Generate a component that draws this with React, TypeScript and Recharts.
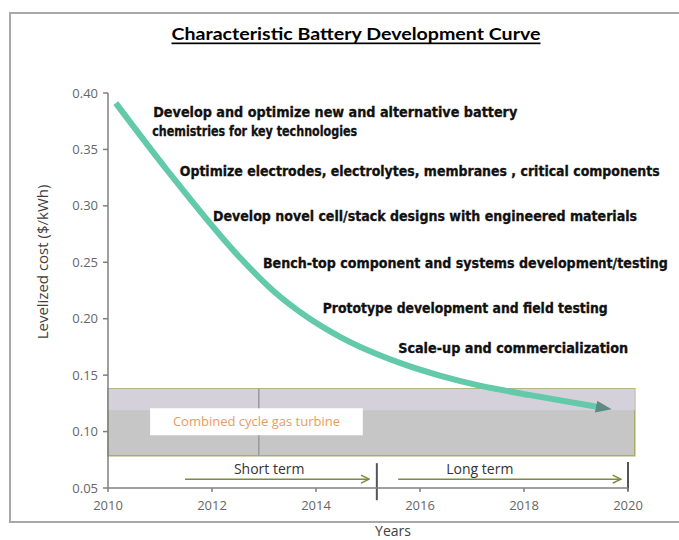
import React from "react";
import {
  ComposedChart,
  Line,
  Scatter,
  XAxis,
  YAxis,
  ReferenceArea,
  ReferenceLine,
} from "recharts";

// cost curve (year, $/kWh)
const curve = [
  { year: 2010.15, cost: 0.391 },
  { year: 2011.13, cost: 0.332 },
  { year: 2012.54, cost: 0.254 },
  { year: 2013.17, cost: 0.225 },
  { year: 2013.83, cost: 0.2015 },
  { year: 2014.46, cost: 0.184 },
  { year: 2015.1, cost: 0.17 },
  { year: 2015.75, cost: 0.1586 },
  { year: 2016.38, cost: 0.1496 },
  { year: 2017.15, cost: 0.1407 },
  { year: 2018.12, cost: 0.1323 },
  { year: 2019.46, cost: 0.1215 },
];

const xTicks = [2010, 2012, 2014, 2016, 2018, 2020];
const yTicks = [0.05, 0.1, 0.15, 0.2, 0.25, 0.3, 0.35, 0.4];

const shortArrow = [
  { year: 2011.48, cost: 0.0578 },
  { year: 2015.02, cost: 0.0578 },
];
const longArrow = [
  { year: 2015.58, cost: 0.0578 },
  { year: 2019.86, cost: 0.0578 },
];

// stage notes, anchored at their left edge
const notes = [
  { year: 2010.87, cost: 0.3832, text: "Develop and optimize new and alternative battery", len: 364 },
  { year: 2010.85, cost: 0.3663, text: "chemistries for key technologies", len: 205 },
  { year: 2011.38, cost: 0.3308, text: "Optimize electrodes, electrolytes, membranes , critical components", len: 480 },
  { year: 2012.02, cost: 0.2909, text: "Develop novel cell/stack designs with engineered materials", len: 424 },
  { year: 2012.98, cost: 0.2492, text: "Bench-top component and systems development/testing", len: 405 },
  { year: 2014.13, cost: 0.2093, text: "Prototype development and field testing", len: 285 },
  { year: 2015.58, cost: 0.1738, text: "Scale-up and commercialization", len: 230 },
];

const termLabels = [
  { year: 2013.1, cost: 0.0674, text: "Short term" },
  { year: 2017.15, cost: 0.0674, text: "Long term" },
];

const gasBand = { x1: 2010, x2: 2020.13, y1: 0.0786, y2: 0.138 };
const gasBandTop = { y1: 0.119, y2: 0.138 };
const gasLabelBox = { x1: 2010.81, x2: 2014.9, y1: 0.0968, y2: 0.1207 };
const bandSeam = 2012.9;
const termDivider = 2015.17;
const termEnd = 2020;

const NOTE_FONT = "'Liberation Sans Narrow', 'DejaVu Sans Condensed', 'Arial Narrow', sans-serif";
const AXIS_FONT = "'Open Sans', 'Liberation Sans', sans-serif";

function NoteShape(props: any) {
  const { cx, cy, payload } = props;
  return (
    <text
      x={cx}
      y={cy}
      dominantBaseline="central"
      fontFamily={NOTE_FONT}
      fontWeight="bold"
      fontSize={14}
      fill="#111"
      stroke="#111"
      strokeWidth={0.3}
      textLength={payload.len}
      lengthAdjust="spacingAndGlyphs"
    >
      {payload.text}
    </text>
  );
}

function TermShape(props: any) {
  const { cx, cy, payload } = props;
  return (
    <text
      x={cx}
      y={cy}
      textAnchor="middle"
      dominantBaseline="central"
      fontFamily={AXIS_FONT}
      fontSize={14}
      fill="#333"
    >
      {payload.text}
    </text>
  );
}

export default function App() {
  return (
    <div
      style={{
        position: "fixed",
        left: 0,
        top: 0,
        width: 679,
        height: 540,
        background: "#fff",
        overflow: "hidden",
      }}
    >
      <div
        style={{
          position: "absolute",
          left: 9,
          top: 12,
          width: 720,
          height: 511,
          boxSizing: "border-box",
          border: "2px solid #a8a8a8",
        }}
      />
      <div style={{ position: "absolute", left: 0, top: 0 }}>
        <ComposedChart
          width={679}
          height={540}
          margin={{ top: 93, right: 51, bottom: 0, left: 0 }}
        >
          <defs>
            <marker
              id="curveHead"
              markerUnits="userSpaceOnUse"
              markerWidth={16}
              markerHeight={12}
              refX={4}
              refY={6}
              orient="auto"
            >
              <path d="M0,0 L16,6 L0,12 z" fill="#5b8c84" />
            </marker>
            <marker
              id="termHead"
              markerUnits="userSpaceOnUse"
              markerWidth={10}
              markerHeight={10}
              refX={9}
              refY={5}
              orient="auto"
            >
              <path d="M1,1 L9,5 L1,9" fill="none" stroke="#7d8b3c" strokeWidth={1.5} />
            </marker>
          </defs>
          <XAxis
            type="number"
            dataKey="year"
            domain={[2010, 2020]}
            ticks={xTicks}
            height={52}
            tickSize={4}
            tickMargin={9}
            stroke="#7f7f7f"
            strokeWidth={1.5}
            tick={{ fill: "#666", fontSize: 13, fontFamily: AXIS_FONT }}
          />
          <YAxis
            type="number"
            dataKey="cost"
            domain={[0.05, 0.4]}
            ticks={yTicks}
            width={108}
            tickSize={5}
            tickMargin={5}
            stroke="#7f7f7f"
            strokeWidth={1.5}
            tickFormatter={(v: number) => v.toFixed(2)}
            tick={{ fill: "#666", fontSize: 13, fontFamily: AXIS_FONT }}
          />
          <ReferenceArea
            x1={gasBand.x1}
            x2={gasBand.x2}
            y1={gasBand.y1}
            y2={gasBand.y2}
            ifOverflow="visible"
            fill="#c6c6c6"
            fillOpacity={1}
            stroke="#a9ad6a"
            strokeWidth={1.5}
          />
          <ReferenceArea
            x1={gasBand.x1}
            x2={gasBand.x2}
            y1={gasBandTop.y1}
            y2={gasBandTop.y2}
            ifOverflow="visible"
            fill="#d4d1da"
            fillOpacity={1}
          />
          <ReferenceLine
            segment={[
              { x: bandSeam, y: gasBand.y2 },
              { x: bandSeam, y: gasLabelBox.y2 },
            ]}
            stroke="#9a9a9a"
            strokeWidth={1.5}
          />
          <ReferenceLine
            segment={[
              { x: bandSeam, y: gasLabelBox.y1 },
              { x: bandSeam, y: gasBand.y1 },
            ]}
            stroke="#9a9a9a"
            strokeWidth={1.5}
          />
          <ReferenceArea
            x1={gasLabelBox.x1}
            x2={gasLabelBox.x2}
            y1={gasLabelBox.y1}
            y2={gasLabelBox.y2}
            fill="#ffffff"
            fillOpacity={1}
            label={{
              value: "Combined cycle gas turbine",
              position: "center",
              fill: "#eb9a62",
              fontSize: 13,
              fontFamily: AXIS_FONT,
            }}
          />
          <ReferenceLine
            segment={[
              { x: termDivider, y: 0.072 },
              { x: termDivider, y: 0.0392 },
            ]}
            ifOverflow="visible"
            stroke="#555"
            strokeWidth={2}
          />
          <ReferenceLine
            segment={[
              { x: termEnd, y: 0.073 },
              { x: termEnd, y: 0.0475 },
            ]}
            ifOverflow="visible"
            stroke="#555"
            strokeWidth={2}
          />
          <Line
            data={shortArrow}
            dataKey="cost"
            type="linear"
            stroke="#7d8b3c"
            strokeWidth={1.5}
            dot={false}
            activeDot={false}
            markerEnd="url(#termHead)"
            isAnimationActive={false}
          />
          <Line
            data={longArrow}
            dataKey="cost"
            type="linear"
            stroke="#7d8b3c"
            strokeWidth={1.5}
            dot={false}
            activeDot={false}
            markerEnd="url(#termHead)"
            isAnimationActive={false}
          />
          <Line
            data={curve}
            dataKey="cost"
            type="monotone"
            stroke="#62c9a9"
            strokeWidth={6}
            dot={false}
            activeDot={false}
            markerEnd="url(#curveHead)"
            isAnimationActive={false}
          />
          <Scatter data={notes} dataKey="cost" shape={NoteShape} isAnimationActive={false} />
          <Scatter data={termLabels} dataKey="cost" shape={TermShape} isAnimationActive={false} />
        </ComposedChart>
      </div>
      <svg
        width={679}
        height={540}
        style={{ position: "absolute", left: 0, top: 0, pointerEvents: "none" }}
      >
        <text
          x={356}
          y={33}
          textAnchor="middle"
          dominantBaseline="central"
          fontFamily="Lato, 'Open Sans', sans-serif"
          fontWeight="bold"
          fontSize={17}
          fill="#000"
          textLength={369}
          lengthAdjust="spacingAndGlyphs"
          textDecoration="underline"
        >
          Characteristic Battery Development Curve
        </text>
        <text
          x={42}
          y={262}
          transform="rotate(-90 42 262)"
          textAnchor="middle"
          dominantBaseline="central"
          fontFamily={AXIS_FONT}
          fontSize={15}
          fill="#404040"
        >
          Levelized cost ($/kWh)
        </text>
        <text
          x={393}
          y={530}
          textAnchor="middle"
          dominantBaseline="central"
          fontFamily={AXIS_FONT}
          fontSize={14}
          fill="#404040"
        >
          Years
        </text>
      </svg>
    </div>
  );
}
